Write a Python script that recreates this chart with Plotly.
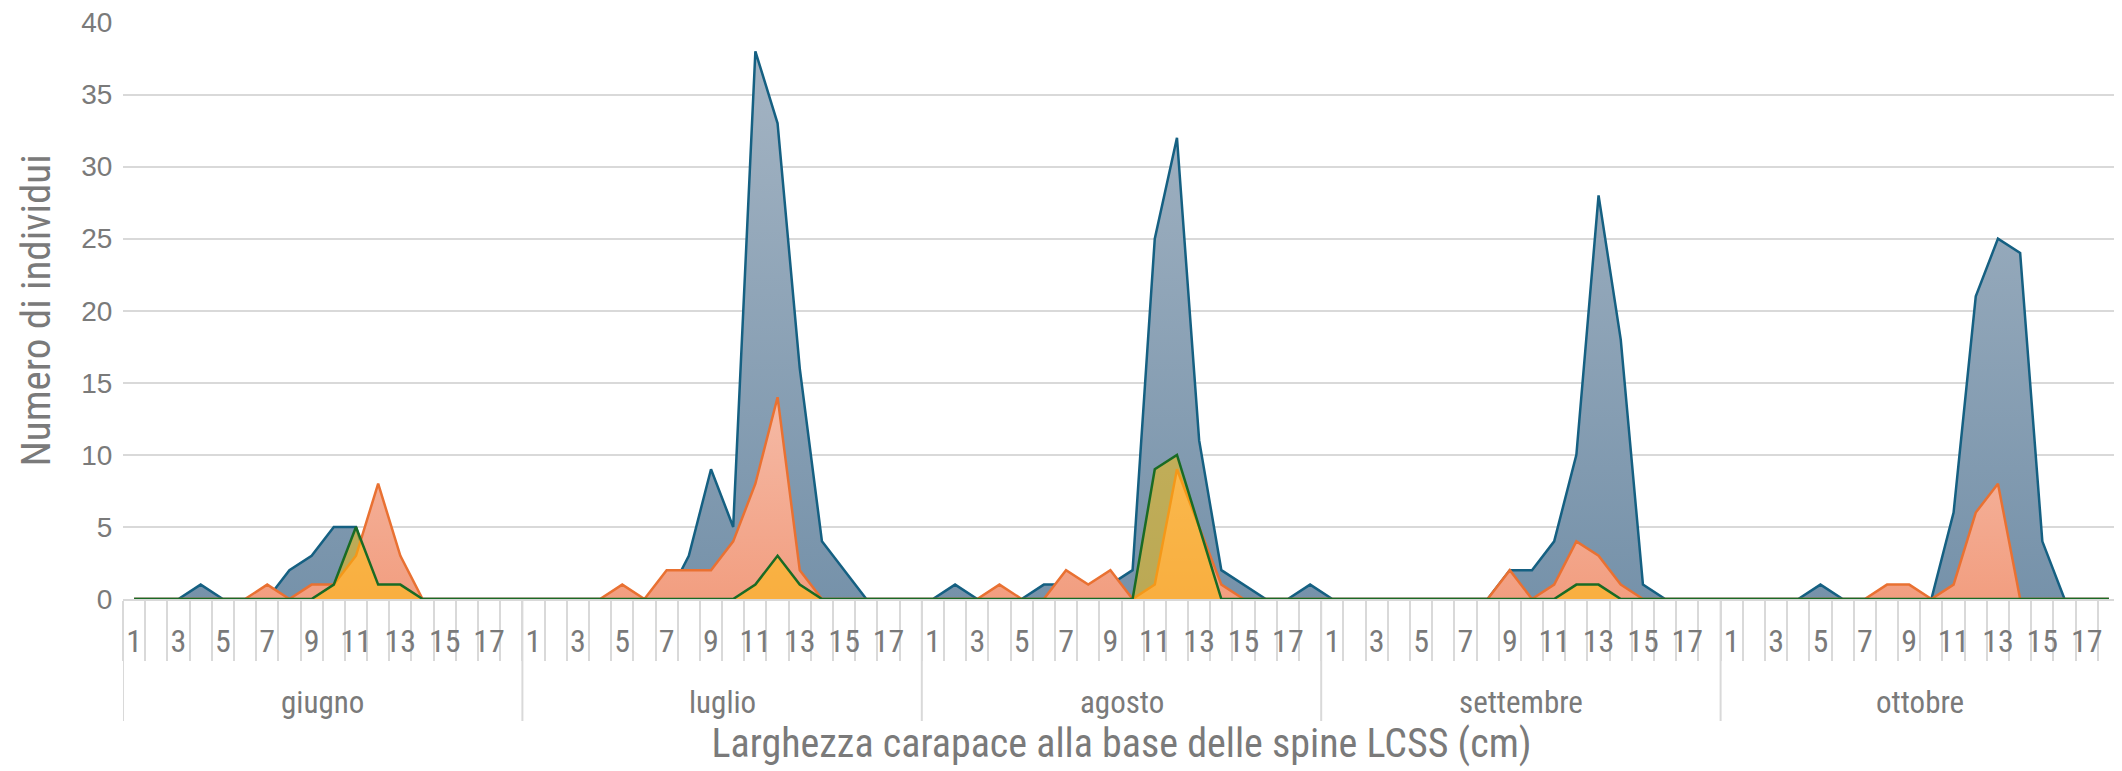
import plotly.graph_objects as go

# ---- data -------------------------------------------------------------
mesi = ["giugno", "luglio", "agosto", "settembre", "ottobre"]
classi = list(range(1, 19))  # LCSS classes (cm)

serie1_giugno    = [0, 0, 0, 1, 0, 0, 0, 2, 3, 5, 5, 0, 0, 0, 0, 0, 0, 0]
serie1_luglio    = [0, 0, 0, 0, 0, 0, 0, 3, 9, 5, 38, 33, 16, 4, 2, 0, 0, 0]
serie1_agosto    = [0, 1, 0, 0, 0, 1, 1, 1, 1, 2, 25, 32, 11, 2, 1, 0, 0, 1]
serie1_settembre = [0, 0, 0, 0, 0, 0, 0, 0, 2, 2, 4, 10, 28, 18, 1, 0, 0, 0]
serie1_ottobre   = [0, 0, 0, 0, 1, 0, 0, 0, 0, 0, 6, 21, 25, 24, 4, 0, 0, 0]

serie2_giugno    = [0, 0, 0, 0, 0, 0, 1, 0, 1, 1, 3, 8, 3, 0, 0, 0, 0, 0]
serie2_luglio    = [0, 0, 0, 0, 1, 0, 2, 2, 2, 4, 8, 14, 2, 0, 0, 0, 0, 0]
serie2_agosto    = [0, 0, 0, 1, 0, 0, 2, 1, 2, 0, 1, 9, 5, 1, 0, 0, 0, 0]
serie2_settembre = [0, 0, 0, 0, 0, 0, 0, 0, 2, 0, 1, 4, 3, 1, 0, 0, 0, 0]
serie2_ottobre   = [0, 0, 0, 0, 0, 0, 0, 1, 1, 0, 1, 6, 8, 0, 0, 0, 0, 0]

serie3_giugno    = [0, 0, 0, 0, 0, 0, 0, 0, 0, 1, 5, 1, 1, 0, 0, 0, 0, 0]
serie3_luglio    = [0, 0, 0, 0, 0, 0, 0, 0, 0, 0, 1, 3, 1, 0, 0, 0, 0, 0]
serie3_agosto    = [0, 0, 0, 0, 0, 0, 0, 0, 0, 0, 9, 10, 5, 0, 0, 0, 0, 0]
serie3_settembre = [0, 0, 0, 0, 0, 0, 0, 0, 0, 0, 0, 1, 1, 0, 0, 0, 0, 0]
serie3_ottobre   = [0] * 18

y_ticks = [0, 5, 10, 15, 20, 25, 30, 35, 40]
label_classi = [1, 3, 5, 7, 9, 11, 13, 15, 17]

x_title = "Larghezza carapace alla base delle spine LCSS (cm)"
y_title = "Numero di individui"

# ---- build ------------------------------------------------------------
n = len(classi)
s1 = serie1_giugno + serie1_luglio + serie1_agosto + serie1_settembre + serie1_ottobre
s2 = serie2_giugno + serie2_luglio + serie2_agosto + serie2_settembre + serie2_ottobre
s3 = serie3_giugno + serie3_luglio + serie3_agosto + serie3_settembre + serie3_ottobre
xs = list(range(len(s1)))

GRID = "#d9d9d9"
TXT = "#7a7a7a"
NARROW = "Liberation Sans Narrow, Arial Narrow, Roboto Condensed, Liberation Sans, sans-serif"

fig = go.Figure()
fig.add_trace(go.Scatter(
    x=xs, y=s1, name="Serie 1", mode="lines", fill="tozeroy",
    line=dict(color="#156082", width=2.5),
    fillgradient=dict(type="vertical", start=0, stop=max(s1),
                      colorscale=[[0, "rgb(118,146,170)"], [1, "rgb(164,180,195)"]]),
))
fig.add_trace(go.Scatter(
    x=xs, y=s2, name="Serie 2", mode="lines", fill="tozeroy",
    line=dict(color="#E97132", width=2.5),
    fillgradient=dict(type="vertical", start=0, stop=max(s2),
                      colorscale=[[0, "rgb(242,158,128)"], [1, "rgb(245,186,166)"]]),
))
fig.add_trace(go.Scatter(
    x=xs, y=s3, name="Serie 3", mode="lines", fill="tozeroy",
    line=dict(color="#196B24", width=2.5),
    fillcolor="rgba(255,192,0,0.5)",
))

# category labels on a matching overlay axis
fig.add_trace(go.Scatter(x=[xs[0]], y=[0], xaxis="x2", mode="markers",
                         marker=dict(opacity=0), showlegend=False, hoverinfo="skip"))

boundaries = [i - 0.5 for i in range(len(s1) + 1)]
label_pos = [m * n + (c - 1) for m in range(len(mesi)) for c in label_classi]
label_txt = [str(c) for m in range(len(mesi)) for c in label_classi]

# figure is placed 8px into the page (default body margin)
W, H = 2114, 763
ML, MR, MT, MB = 115, 2, 14, 172
plot_h = H - MT - MB

shapes = []
for m in range(len(mesi) + 1):
    shapes.append(dict(type="line", xref="x", yref="paper",
                       x0=m * n - 0.5, x1=m * n - 0.5, y0=0, y1=-122 / plot_h,
                       line=dict(color=GRID, width=2), layer="below"))

annotations = []
for m, mese in enumerate(mesi):
    annotations.append(dict(text=mese, xref="x", yref="paper",
                            x=m * n + (n - 1) / 2, y=-103 / plot_h,
                            showarrow=False, yanchor="middle",
                            font=dict(family=NARROW, size=31, color=TXT)))

fig.update_layout(
    width=W, height=H,
    margin=dict(l=ML, r=MR, t=MT, b=MB, autoexpand=False),
    paper_bgcolor="white", plot_bgcolor="white",
    showlegend=False,
    shapes=shapes, annotations=annotations,
    xaxis=dict(range=[-0.5, len(s1) - 0.5], tickmode="array", tickvals=boundaries,
               ticktext=[""] * len(boundaries), ticks="outside", ticklen=60,
               tickcolor=GRID, tickwidth=2, showgrid=False, zeroline=False,
               showline=True, linecolor=GRID, linewidth=2,
               title=dict(text=x_title, standoff=67,
                          font=dict(family=NARROW, size=40, color=TXT))),
    xaxis2=dict(overlaying="x", matches="x", side="bottom", anchor="y",
                tickmode="array", tickvals=label_pos, ticktext=label_txt,
                ticks="outside", ticklen=14, tickcolor="rgba(0,0,0,0)",
                showgrid=False, zeroline=False, showline=False,
                tickfont=dict(family=NARROW, size=32, color=TXT)),
    yaxis=dict(range=[0, 40.03], tickmode="array", tickvals=y_ticks,
               showgrid=True, gridcolor=GRID, gridwidth=2, zeroline=False,
               ticks="outside", ticklen=4, tickcolor="rgba(0,0,0,0)",
               ticklabeloverflow="allow",
               tickfont=dict(family="Liberation Sans, Arial, sans-serif", size=28, color=TXT),
               title=dict(text=y_title, standoff=17,
                          font=dict(family=NARROW, size=41, color=TXT))),
)

fig.write_html("out.html")
